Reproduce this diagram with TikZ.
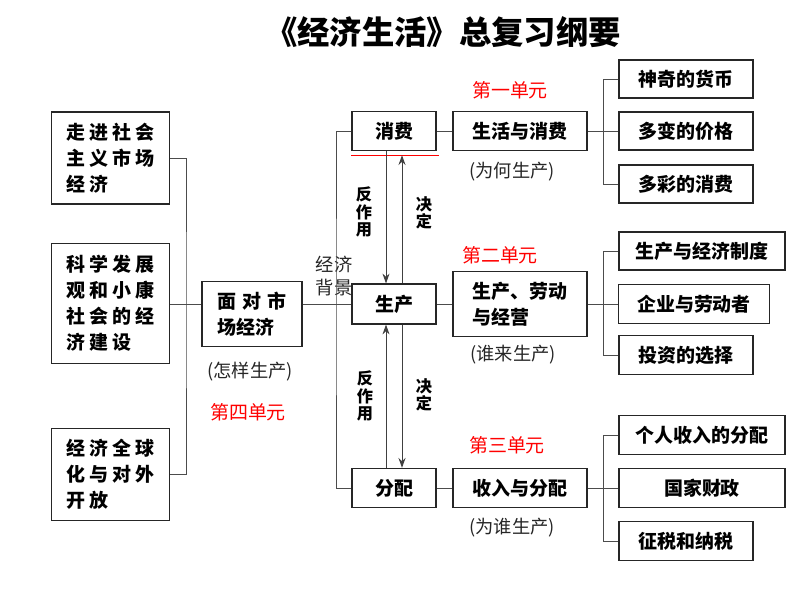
\documentclass[tikz,border=0pt]{standalone}
\usepackage{fontspec}
\newfontfamily\cjk{Noto Sans CJK SC}
\newfontfamily\cjksp[LetterSpace=20]{Noto Sans CJK SC}
\usetikzlibrary{arrows.meta, positioning}

\begin{document}
\begin{tikzpicture}[x=0.025cm, y=-0.025cm,
  box/.style={rectangle, draw=black!85, line width=0.8pt, align=center, inner sep=1pt,
              font=\cjk\bfseries\fontsize{13.5}{18.5}\selectfont},
  sidebox/.style={box, align=left, minimum width=2.93cm,
              font=\cjksp\bfseries\fontsize{13.5}{18.5}\selectfont},
  link/.style={draw=black!70, line width=0.7pt},
  arrow/.style={-{Stealth[length=7pt, width=5pt]}, draw=black!75, line width=0.7pt},
  unit/.style={text=red, font=\cjk\fontsize{13.5}{16}\selectfont},
  note/.style={text=black!85, font=\cjk\fontsize{13}{16}\selectfont},
  vlabel/.style={align=center, font=\cjk\bfseries\fontsize{11.5}{12.5}\selectfont}
]
  \useasboundingbox (0,0) rectangle (800,600);

  % title
  \node[font=\cjk\bfseries\fontsize{23}{26}\selectfont] (title) at (443,32) {《经济生活》总复习纲要};

  % left column
  \node[sidebox, minimum height=2.3cm]  (zj) at (110.5,158)   {走进社会\\主义市场\\经济};
  \node[sidebox, minimum height=2.98cm] (kx) at (110.5,303.5) {科学发展\\观和小康\\社会的经\\济建设};
  \node[sidebox, minimum height=2.28cm] (gj) at (110.5,474.5) {经济全球\\化与对外\\开放};

  \node[box, align=left, minimum width=2.5cm, minimum height=1.63cm] (mdsc) at (252,314)
       {面\hspace{0.3em}对\hspace{0.3em}市\\场经济};
  \node[note] (zysc) at (250,372) {(怎样生产)};
  \node[unit] (u4) at (248,412) {第四单元};

  % middle column
  \node[box, minimum width=2.1cm, minimum height=0.98cm] (xf) at (394,131) {消费};
  \node[box, minimum width=2.1cm, minimum height=1.0cm]  (sc) at (394,304) {生产};
  \node[box, minimum width=2.1cm, minimum height=0.98cm] (fp) at (394,488) {分配};

  \node[box, minimum width=3.35cm, minimum height=0.98cm] (shxf) at (520,131) {生活与消费};
  \node[box, align=left, minimum width=3.35cm, minimum height=1.63cm] (scld) at (520,304) {生产、劳动\\与经营};
  \node[box, minimum width=3.35cm, minimum height=0.98cm] (srfp) at (520,488) {收入与分配};

  \node[note] (whsc) at (512,172) {(为何生产)};
  \node[note] (wlsc) at (513,355) {(谁来生产)};
  \node[note] (wssc) at (512,528) {(为谁生产)};

  \node[unit] (u1) at (510,90)  {第一单元};
  \node[unit] (u2) at (500,255) {第二单元};
  \node[unit] (u3) at (507,445) {第三单元};

  \node[note, align=left] (jjbj) at (334,276) {经济\\背景};

  % right column
  \node[box, minimum width=3.35cm, minimum height=0.95cm] (shb)  at (686,79)  {神奇的货币};
  \node[box, minimum width=3.35cm, minimum height=0.95cm] (dbjg) at (686,131) {多变的价格};
  \node[box, minimum width=3.35cm, minimum height=0.95cm] (dcxf) at (686,184) {多彩的消费};
  \node[box, minimum width=4.15cm, minimum height=0.95cm] (sczd) at (702,251) {生产与经济制度};
  \node[box, minimum width=3.78cm, minimum height=0.98cm] (qy)   at (694,304) {企业与劳动者};
  \node[box, minimum width=3.35cm, minimum height=0.98cm] (tz)   at (686,355) {投资的选择};
  \node[box, minimum width=4.15cm, minimum height=0.98cm] (grsr) at (702,435) {个人收入的分配};
  \node[box, minimum width=4.15cm, minimum height=0.98cm] (gjcz) at (702,488) {国家财政};
  \node[box, minimum width=3.35cm, minimum height=0.98cm] (zs)   at (686,541) {征税和纳税};

  % brackets
  \coordinate (lspine) at (186,304);
  \coordinate (mspine) at (336,304);
  \coordinate (rs1) at (603,131);
  \coordinate (rs2) at (603,304);
  \coordinate (rs3) at (603,488);

  \draw[link] (zj.east) -| (lspine) |- (gj.east);
  \draw[link] (kx.east |- sc) -- (mdsc.west |- sc);
  \draw[link] (mdsc.east |- sc) -- (sc.west);
  \draw[link] (xf.west) -| (mspine) |- (fp.west);

  \draw[link] (xf.east) -- (shxf.west);
  \draw[link] (sc.east) -- (scld.west);
  \draw[link] (fp.east) -- (srfp.west);

  \draw[link] (shxf.east) -- (dbjg.west);
  \draw[link] (shb.west) -| (rs1) |- (dcxf.west);
  \draw[link] (scld.east) -- (qy.west);
  \draw[link] (sczd.west) -| (rs2) |- (tz.west);
  \draw[link] (srfp.east) -- (gjcz.west);
  \draw[link] (grsr.west) -| (rs3) |- (zs.west);

  % production and the others
  \draw[red, line width=0.8pt] ([yshift=-0.1cm]xf.south west) -- ([yshift=-0.1cm, xshift=0.05cm]xf.south east);
  \draw[arrow] ([xshift=-0.2cm]xf.south) -- ([xshift=-0.2cm]sc.north);
  \draw[arrow] ([xshift=0.2cm]sc.north) -- ([xshift=0.2cm, yshift=-0.1cm]xf.south);
  \draw[arrow] ([xshift=-0.2cm]fp.north) -- ([xshift=-0.2cm]sc.south);
  \draw[arrow] ([xshift=0.2cm]sc.south) -- ([xshift=0.2cm]fp.north);

  \node[vlabel] (fzy1) at (364,212) {反\\作\\用};
  \node[vlabel] (jd1)  at (424,213) {决\\定};
  \node[vlabel] (fzy2) at (365,396) {反\\作\\用};
  \node[vlabel] (jd2)  at (424,395) {决\\定};
\end{tikzpicture}
\end{document}
